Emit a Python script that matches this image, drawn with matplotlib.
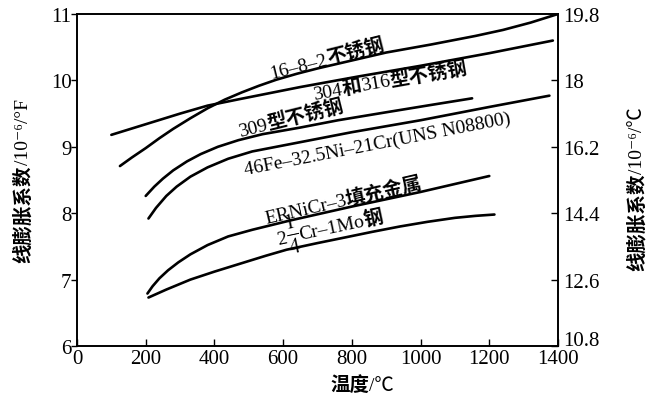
import math

import matplotlib
matplotlib.use("Agg")
import matplotlib.pyplot as plt
from matplotlib.transforms import ScaledTranslation

plt.rcParams["font.family"] = ["Liberation Serif", "Noto Sans CJK SC", "DejaVu Sans"]
plt.rcParams["mathtext.fontset"] = "stix"

# temperature (°C) and mean linear expansion (1e-6/°F)
t_1682 = [125, 160, 200, 240, 280, 330, 380, 430, 480, 530, 580, 640, 700,
          800, 900, 1030, 1160, 1240, 1320, 1400]
a_1682 = [8.71, 8.84, 8.98, 9.13, 9.27, 9.43, 9.58, 9.71, 9.82, 9.92, 10.01,
          10.10, 10.18, 10.30, 10.42, 10.54, 10.67, 10.76, 10.87, 11.0]

t_304 = [100, 200, 300, 380, 475, 650, 820, 1000, 1200, 1385]
a_304 = [9.18, 9.34, 9.50, 9.62, 9.72, 9.90, 10.06, 10.22, 10.41, 10.60]

t_309 = [200, 225, 250, 280, 320, 360, 410, 470, 540, 650, 760, 900, 1030, 1150]
a_309 = [8.26, 8.40, 8.52, 8.645, 8.78, 8.89, 9.00, 9.10, 9.19, 9.29, 9.40,
         9.52, 9.63, 9.73]

t_n08800 = [208, 230, 260, 290, 330, 380, 440, 510, 580, 650, 800, 1000,
            1200, 1375]
a_n08800 = [7.92, 8.08, 8.26, 8.40, 8.55, 8.69, 8.82, 8.93, 9.00, 9.07, 9.22,
            9.40, 9.60, 9.77]

t_ernicr = [205, 220, 240, 265, 295, 330, 380, 440, 510, 620, 800, 1000, 1200]
a_ernicr = [6.79, 6.90, 7.02, 7.14, 7.26, 7.38, 7.52, 7.65, 7.75, 7.89, 8.10,
            8.32, 8.56]

t_crmo = [208, 260, 330, 400, 475, 550, 610, 700, 785, 860, 940, 1020, 1100,
          1160, 1215]
a_crmo = [6.73, 6.85, 7.00, 7.12, 7.24, 7.36, 7.45, 7.55, 7.64, 7.72, 7.80,
          7.87, 7.93, 7.96, 7.98]

x_ticks = [0, 200, 400, 600, 800, 1000, 1200, 1400]
f_ticks = [6, 7, 8, 9, 10, 11]
c_ticks = [10.8, 12.6, 14.4, 16.2, 18, 19.8]

fig = plt.figure(figsize=(6.51, 4.02), dpi=100)
ax = fig.add_axes([77 / 651, 1 - 347 / 402, 481 / 651, 332 / 402])
renderer = fig.canvas.get_renderer()

FS = 14


def run_text(base, x, y, parts, rotation):
    """Write (string, weight[, size]) pieces one after another along a
    rotated baseline, centred on (x, y)."""
    parts = [p if len(p) == 3 else (p[0], p[1], FS) for p in parts]
    widths = []
    for s, w, size in parts:
        probe = fig.text(0, 0, s, fontsize=size, fontweight=w)
        widths.append(probe.get_window_extent(renderer).width)
        probe.remove()
    ang = math.radians(rotation)
    ca, sa = math.cos(ang), math.sin(ang)
    drop = 0.33 * FS * fig.dpi / 72  # centre line -> baseline
    pos = -sum(widths) / 2
    for (s, w, size), wd in zip(parts, widths):
        dx = pos * ca + drop * sa
        dy = pos * sa - drop * ca
        tr = base + ScaledTranslation(dx / fig.dpi, dy / fig.dpi,
                                      fig.dpi_scale_trans)
        fig.add_artist(plt.Text(x, y, s, transform=tr, fontsize=size,
                                fontweight=w, rotation=rotation,
                                rotation_mode="anchor", ha="left",
                                va="baseline"))
        pos += wd


lw = 1.9
for t, a in [(t_1682, a_1682), (t_304, a_304), (t_309, a_309),
             (t_n08800, a_n08800), (t_ernicr, a_ernicr), (t_crmo, a_crmo)]:
    ax.plot(t, a, color="black", lw=lw, solid_capstyle="round",
            solid_joinstyle="round")

ax.set_xlim(0, 1400)
ax.set_ylim(6, 11)
ax.set_xticks(x_ticks)
ax.set_yticks(f_ticks)
ax.tick_params(axis="x", direction="in", length=5, width=1, pad=2, labelsize=15)
ax.tick_params(axis="y", direction="out", length=4, width=1, pad=0, labelsize=15)
for s in ax.spines.values():
    s.set_linewidth(1.2)

# right-hand scale in 1e-6/°C (x1.8)
ax2 = ax.twinx()
ax2.set_ylim(6 * 1.8, 11 * 1.8)
ax2.set_yticks(c_ticks)
ax2.set_yticklabels([f"{v:g}" for v in c_ticks])
ax2.tick_params(axis="y", direction="in", length=5, width=1, pad=4, labelsize=15)
for s in ax2.spines.values():
    s.set_linewidth(1.2)
# lift the lowest right label clear of "1400"
bottom_lbl = ax2.get_yticklabels()[0]
bottom_lbl.set_transform(bottom_lbl.get_transform()
                         + ScaledTranslation(0, 6 / 72, fig.dpi_scale_trans))

B, N = "bold", "normal"
run_text(ax.transData, 727, 10.35, [("16–8–2", N), ("不锈钢", B)], 14)
run_text(ax.transData, 911, 10.02,
         [("304", N), ("和", B), ("316", N), ("型不锈钢", B)], 10)
run_text(ax.transData, 622, 9.45, [("309", N), ("型不锈钢", B)], 14)
run_text(ax.transData, 872, 9.07,
         [("46Fe–32.5Ni–21Cr(UNS N08800)", N)], 11)
run_text(ax.transData, 775, 8.22, [("ERNiCr–3", N), ("填充金属", B)], 13)
run_text(ax.transData, 735, 7.80,
         [("2", N), (r"$\frac{1}{4}$", N, 22), ("Cr–1Mo", N), ("钢", B)], 12)

run_text(fig.transFigure, 22 / 651, 0.55,
         [("线膨胀系数", B), ("/10⁻⁶/°F", N)], 90)
run_text(fig.transFigure, 636 / 651, 0.53,
         [("线膨胀系数", B), ("/10⁻⁶/℃", N)], 90)
run_text(fig.transFigure, 362 / 651, 1 - 385 / 402,
         [("温度", B), ("/℃", N)], 0)

fig.savefig("out.png", dpi=100)
